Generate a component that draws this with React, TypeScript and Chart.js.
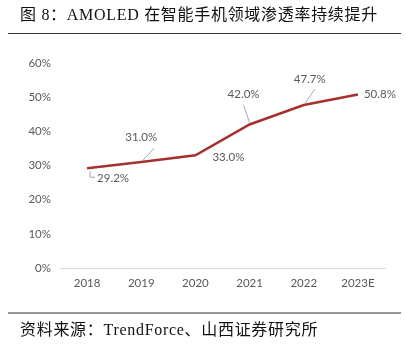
import React, { useEffect, useRef } from "react";
import { Chart, registerables } from "chart.js";

Chart.register(...registerables);

const categories = ["2018", "2019", "2020", "2021", "2022", "2023E"];
const penetration = [29.2, 31.0, 33.0, 42.0, 47.7, 50.8];
const yTicks = [0, 10, 20, 30, 40, 50, 60];

const titleText = "图 8：AMOLED 在智能手机领域渗透率持续提升";
const sourceText = "资料来源：TrendForce、山西证券研究所";

// label placement relative to each point (px) and leader lines
const labelDx = [10, 0, 17, -6, 6, 6];
const labelDy = [10, -25, 2, -30, -26, 0];
const labelAlign: CanvasTextAlign[] = ["left", "center", "left", "center", "center", "left"];
const leaders: number[][][] = [
  [[3, 3], [3, 9], [8, 9]],
  [[13, -14], [1, -1]],
  [],
  [[-6, -19], [0, -2]],
  [[11, -16], [1, -1]],
  [],
];

const tickFont = { family: "Lato, 'Open Sans', sans-serif", size: 11.5 };

const labelPlugin = {
  id: "pointLabels",
  afterDatasetsDraw(chart: any) {
    const ctx = chart.ctx;
    const meta = chart.getDatasetMeta(0);
    ctx.save();
    meta.data.forEach((pt: any, i: number) => {
      const x = pt.x;
      const y = pt.y;
      const seg = leaders[i];
      if (seg.length) {
        ctx.strokeStyle = "#a6a6a6";
        ctx.lineWidth = 1;
        ctx.beginPath();
        seg.forEach((p, j) => {
          if (j === 0) ctx.moveTo(x + p[0], y + p[1]);
          else ctx.lineTo(x + p[0], y + p[1]);
        });
        ctx.stroke();
      }
      ctx.fillStyle = "#595959";
      ctx.font = "11.5px Lato, 'Open Sans', sans-serif";
      ctx.textAlign = labelAlign[i];
      ctx.textBaseline = "middle";
      ctx.fillText(penetration[i].toFixed(1) + "%", x + labelDx[i], y + labelDy[i]);
    });
    ctx.restore();
  },
};

export default function App() {
  const ref = useRef<HTMLCanvasElement | null>(null);
  useEffect(() => {
    if (!ref.current) return;
    const chart = new Chart(ref.current, {
      type: "line",
      data: {
        labels: categories,
        datasets: [
          {
            data: penetration,
            borderColor: "#a5302e",
            borderWidth: 2.5,
            pointRadius: 0,
            tension: 0,
            fill: false,
          },
        ],
      },
      options: {
        responsive: false,
        animation: false,
        layout: { padding: { left: 0, right: 21, top: 63, bottom: 0 } },
        plugins: { legend: { display: false }, tooltip: { enabled: false } },
        scales: {
          x: {
            offset: true,
            grid: { display: false, drawTicks: false },
            border: { display: true, color: "#d9d9d9", width: 1 },
            ticks: { color: "#595959", font: tickFont, padding: 8 },
            afterFit(scale: any) {
              scale.height = 84;
            },
          },
          y: {
            min: 0,
            max: 60,
            afterBuildTicks(scale: any) {
              scale.ticks = yTicks.map((v) => ({ value: v }));
            },
            grid: { display: false, drawTicks: false },
            border: { display: false },
            ticks: {
              color: "#595959",
              font: tickFont,
              padding: 9,
              callback: (v: any) => v + "%",
            },
            afterFit(scale: any) {
              scale.width = 60;
            },
          },
        },
      },
      plugins: [labelPlugin],
    });
    return () => chart.destroy();
  }, []);

  const textStyle: React.CSSProperties = {
    position: "absolute",
    left: 20,
    fontFamily: "'Liberation Serif', 'Noto Sans CJK SC', serif",
    fontSize: 16,
    letterSpacing: 0.7,
    lineHeight: "20px",
    color: "#111",
    whiteSpace: "nowrap",
  };

  return (
    <div style={{ position: "absolute", left: 0, top: 0, width: 406, height: 352, background: "#fff", overflow: "hidden" }}>
      <canvas ref={ref} width={406} height={352} style={{ position: "absolute", left: 0, top: 0, width: 406, height: 352 }} />
      <div style={{ ...textStyle, top: 5 }}>{titleText}</div>
      <div style={{ position: "absolute", left: 8, top: 33, width: 393, height: 1, background: "#333" }} />
      <div style={{ position: "absolute", left: 8, top: 312, width: 393, height: 2, background: "#999" }} />
      <div style={{ ...textStyle, top: 320 }}>{sourceText}</div>
    </div>
  );
}
